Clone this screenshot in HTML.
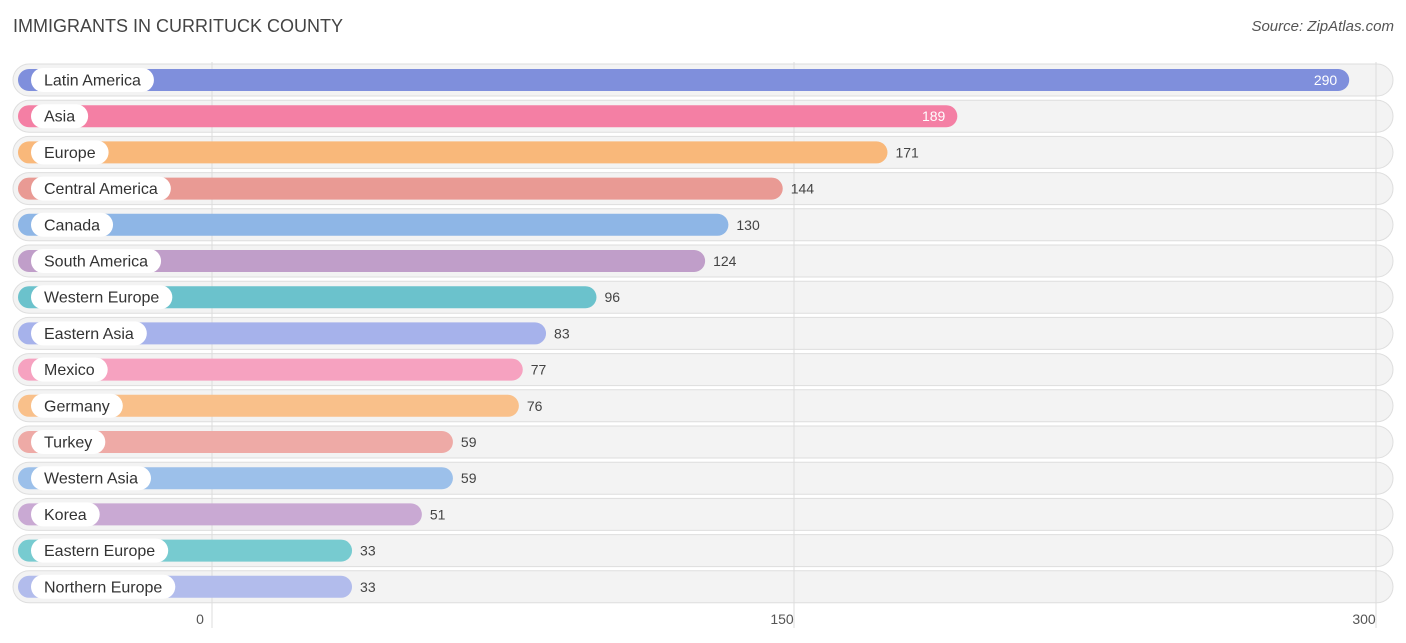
<!DOCTYPE html>
<html><head><meta charset="utf-8"><style>
body{margin:0;background:#fff;font-family:"Liberation Sans",sans-serif;}
#wrap{position:relative;width:1406px;height:643px;}
.title{position:absolute;left:13px;top:16px;font-size:18px;color:#444;}
.src{position:absolute;right:12px;top:18px;font-size:15px;color:#555;font-style:italic;}
</style></head><body>
<div id="wrap">
<div class="title">IMMIGRANTS IN CURRITUCK COUNTY</div>
<div class="src">Source: ZipAtlas.com</div>
<svg id="chart" width="1406" height="643" style="position:absolute;left:0;top:0"></svg>
</div>
<script>
const categories=["Latin America","Asia","Europe","Central America","Canada","South America","Western Europe","Eastern Asia","Mexico","Germany","Turkey","Western Asia","Korea","Eastern Europe","Northern Europe"];
const values=[290,189,171,144,130,124,96,83,77,76,59,59,51,33,33];
const colors=["#7f8fdc","#f47fa4","#f9b87a","#e99a94","#8eb6e6","#c09ec9","#6bc2cc","#a6b2eb","#f6a2c0","#f9c08a","#eeaaa6","#9cc0ea","#c9a9d3","#77cbd0","#b2bcec"];
const ticks=[0,150,300];
const NS="http://www.w3.org/2000/svg";
const svg=document.getElementById('chart');
function x(v){return 212+3.88*v;}
function rowY(i){return 80+i*36.2;}
function mk(t,a,p){const e=document.createElementNS(NS,t);for(const k in a)e.setAttribute(k,a[k]);(p||svg).appendChild(e);return e;}
// row backgrounds
categories.forEach((c,i)=>{
  const bg=mk('rect',{x:13,y:rowY(i)-16,width:1380,height:32,rx:16,fill:'#f3f3f3',stroke:'#dedede','stroke-width':1});
  
  
});
// gridlines + ticks
ticks.forEach(t=>{
  const g=mk('line',{x1:x(t),x2:x(t),y1:62,y2:628,stroke:'#dcdcdc','stroke-width':1});
  
  
  const tl=mk('text',{x:x(t)-12,y:624,'text-anchor':'middle','font-size':14,fill:'#555'});
  tl.textContent=t;
  
  
});
categories.forEach((c,i)=>{
  const y=rowY(i),v=values[i],end=x(v)+12;
  const b=mk('rect',{x:18,y:y-11,width:end-18,height:22,rx:11,fill:colors[i]});
  
  
  const tmp=mk('text',{x:0,y:-100,'font-size':16});tmp.textContent=c;const w=tmp.getComputedTextLength();tmp.remove();
  const p=mk('rect',{x:31,y:y-12,width:w+26,height:24,rx:12,fill:'#fff'});
  
  
  const lt=mk('text',{x:44,y:y+5.5,'font-size':16,fill:'#333'});
  lt.textContent=c;
  
  
  const inside=i<2;
  const vt=mk('text',{x:inside?end-12:end+8,y:y+5,'font-size':14,fill:inside?'#fff':'#444','text-anchor':inside?'end':'start'});
  vt.textContent=v;
  
  
});
</script>
</body></html>
